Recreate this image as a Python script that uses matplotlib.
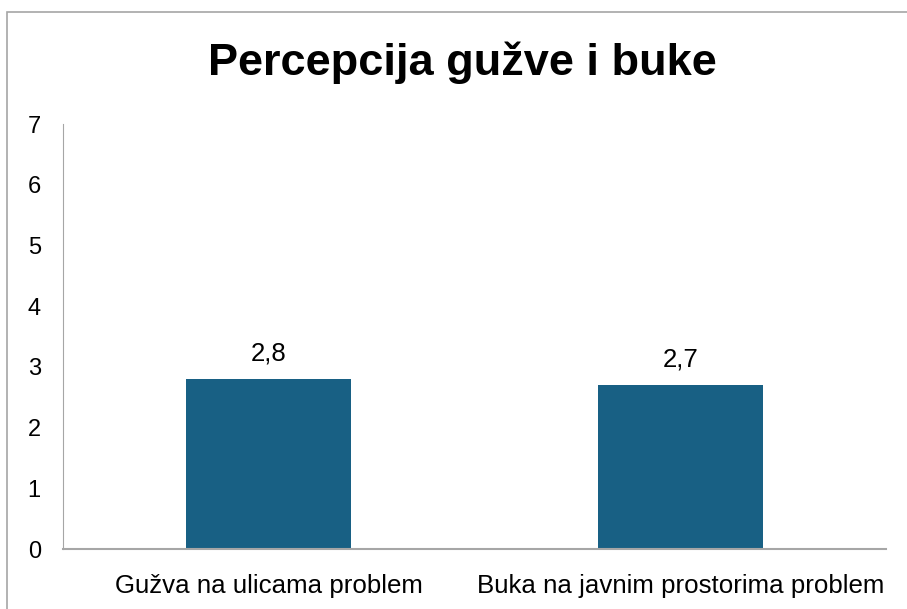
import matplotlib.pyplot as plt
from matplotlib.patches import Rectangle

categories = ['Gužva na ulicama problem', 'Buka na javnim prostorima problem']
values = [2.8, 2.7]
labels = ['2,8', '2,7']
yticks = [0, 1, 2, 3, 4, 5, 6, 7]

plt.rcParams['font.family'] = ['Liberation Sans', 'DejaVu Sans']

W, H = 907, 609
fig = plt.figure(figsize=(W / 100, H / 100), dpi=100)
ax = fig.add_axes([63 / W, 1 - 549 / H, (886 - 63) / W, (549 - 124) / H])

x = range(len(categories))
ax.bar(x, values, width=0.4, color='#186084', zorder=2)
for xi, v, lab in zip(x, values, labels):
    ax.text(xi, v + 0.22, lab, ha='center', va='bottom', fontsize=18.5)

ax.set_xlim(-0.5, 1.5)
ax.set_ylim(0, 7)
ax.set_yticks(yticks)
ax.set_xticks(list(x))
ax.set_xticklabels(categories, fontsize=18.6)
ax.tick_params(axis='y', length=0, labelsize=17, pad=16)
ax.tick_params(axis='x', length=0, pad=18)
for s in ['top', 'right']:
    ax.spines[s].set_visible(False)
ax.spines['left'].set_color('#a6a6a6')
ax.spines['bottom'].set_color('#a6a6a6')
ax.spines['bottom'].set_linewidth(1.5)

fig.text(462 / W, 1 - 63 / H, 'Percepcija gužve i buke', ha='center', va='center',
         fontsize=32.5, fontweight='bold')

# chart border (cropped at right and bottom)
fig.patches.append(Rectangle((7 / W, -0.1), 1.2, 1 - 12 / H + 0.1, transform=fig.transFigure,
                             fill=False, edgecolor='#a6a6a6', linewidth=1.2))

fig.savefig('out.png', dpi=100)
